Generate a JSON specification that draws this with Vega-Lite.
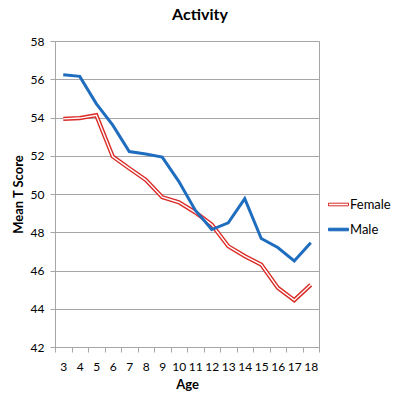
{
  "$schema": "https://vega.github.io/schema/vega-lite/v6.json",
  "autosize": "none",
  "width": 264,
  "height": 306,
  "padding": {"left": 55, "top": 41, "right": 81, "bottom": 53},
  "background": "white",
  "config": {
    "font": "Lato",
    "view": {"stroke": "#a6a6a6", "strokeWidth": 1}
  },
  "title": {
    "text": "Activity",
    "fontSize": 16,
    "fontWeight": "bold",
    "font": "Lato",
    "color": "#000000",
    "anchor": "middle",
    "dx": 13,
    "offset": 12
  },
  "data": {
    "values": [
      {"age": 3, "series": "Female", "value": 53.93},
      {"age": 4, "series": "Female", "value": 53.97},
      {"age": 5, "series": "Female", "value": 54.12},
      {"age": 6, "series": "Female", "value": 51.96},
      {"age": 7, "series": "Female", "value": 51.34},
      {"age": 8, "series": "Female", "value": 50.74},
      {"age": 9, "series": "Female", "value": 49.83},
      {"age": 10, "series": "Female", "value": 49.57},
      {"age": 11, "series": "Female", "value": 49.04},
      {"age": 12, "series": "Female", "value": 48.4},
      {"age": 13, "series": "Female", "value": 47.27},
      {"age": 14, "series": "Female", "value": 46.75},
      {"age": 15, "series": "Female", "value": 46.31},
      {"age": 16, "series": "Female", "value": 45.1},
      {"age": 17, "series": "Female", "value": 44.45},
      {"age": 18, "series": "Female", "value": 45.25},
      {"age": 3, "series": "Male", "value": 56.24},
      {"age": 4, "series": "Male", "value": 56.15},
      {"age": 5, "series": "Male", "value": 54.73},
      {"age": 6, "series": "Male", "value": 53.6},
      {"age": 7, "series": "Male", "value": 52.22},
      {"age": 8, "series": "Male", "value": 52.09},
      {"age": 9, "series": "Male", "value": 51.93},
      {"age": 10, "series": "Male", "value": 50.66},
      {"age": 11, "series": "Male", "value": 49.15},
      {"age": 12, "series": "Male", "value": 48.14},
      {"age": 13, "series": "Male", "value": 48.49},
      {"age": 14, "series": "Male", "value": 49.76},
      {"age": 15, "series": "Male", "value": 47.67},
      {"age": 16, "series": "Male", "value": 47.2},
      {"age": 17, "series": "Male", "value": 46.5},
      {"age": 18, "series": "Male", "value": 47.45}
    ]
  },
  "encoding": {
    "x": {
      "field": "age",
      "type": "ordinal",
      "scale": {"type": "band", "paddingInner": 0, "paddingOuter": 0},
      "axis": {
        "title": "Age",
        "titleFont": "Lato",
        "titleFontSize": 13,
        "titleFontWeight": "bold",
        "titleColor": "#000000",
        "titlePadding": 6,
        "labelAngle": 0,
        "labelFont": "Lato",
        "labelFontSize": 12,
        "labelColor": "#000000",
        "labelPadding": 9,
        "tickBand": "extent",
        "tickColor": "#a6a6a6",
        "tickSize": 5,
        "domainColor": "#a6a6a6",
        "grid": false
      }
    },
    "y": {
      "field": "value",
      "type": "quantitative",
      "scale": {"domain": [42, 58], "nice": false, "zero": false},
      "axis": {
        "title": "Mean T Score",
        "titleFont": "Lato",
        "titleFontSize": 13,
        "titleFontWeight": "bold",
        "titleColor": "#000000",
        "titlePadding": 5,
        "values": [42, 44, 46, 48, 50, 52, 54, 56, 58],
        "labelFont": "Lato",
        "labelFontSize": 12,
        "labelColor": "#000000",
        "labelPadding": 6,
        "tickColor": "#a6a6a6",
        "tickSize": 5,
        "domainColor": "#a6a6a6",
        "grid": true,
        "gridColor": "#a6a6a6",
        "gridWidth": 1
      }
    }
  },
  "layer": [
    {
      "transform": [{"filter": "datum.series === 'Female'"}],
      "mark": {"type": "line", "strokeWidth": 4.2, "strokeJoin": "miter"},
      "encoding": {
        "color": {
          "field": "series",
          "type": "nominal",
          "scale": {"domain": ["Female", "Male"], "range": ["#DA2B26", "#1F6DBF"]},
          "legend": {
            "title": null,
            "orient": "none",
            "legendX": 273,
            "legendY": 153,
            "labelFont": "Lato",
            "labelFontSize": 13,
            "labelColor": "#000000",
            "labelOffset": 1,
            "rowPadding": 7,
            "symbolType": "M-1,-0.13H1V0.13H-1Z",
            "symbolSize": 400,
            "symbolStrokeWidth": 1,
            "encode": {
              "symbols": {
                "update": {
                  "fill": [
                    {"test": "datum.value === 'Female'", "value": "#ffffff"},
                    {"value": "#1F6DBF"}
                  ],
                  "fillOpacity": {"value": 1}
                }
              }
            }
          }
        }
      }
    },
    {
      "transform": [{"filter": "datum.series === 'Female'"}],
      "mark": {"type": "line", "strokeWidth": 1.4, "color": "#ffffff", "strokeJoin": "miter"},
      "encoding": {}
    },
    {
      "transform": [{"filter": "datum.series === 'Male'"}],
      "mark": {"type": "line", "strokeWidth": 3},
      "encoding": {
        "color": {"field": "series", "type": "nominal"}
      }
    }
  ]
}
